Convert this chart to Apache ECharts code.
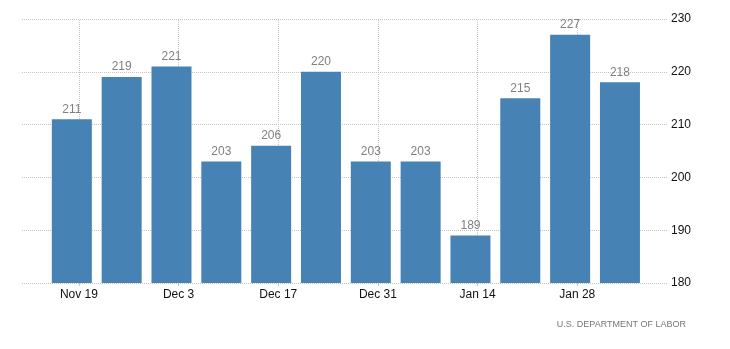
<!DOCTYPE html>
<html>
<head>
<meta charset="utf-8">
<script src="https://cdn.jsdelivr.net/npm/echarts@6/dist/echarts.min.js"></script>
<style>html,body{margin:0;padding:0;background:#fff}#c{width:730px;height:349px}</style>
</head>
<body>
<div id="c"></div>
<script>
// Days counted from Sun Nov 19 (bars sit on week-ending Saturdays)
const barDays = [-1, 6, 13, 20, 27, 34, 41, 48, 55, 62, 69, 76];
const values = [211, 219, 221, 203, 206, 220, 203, 203, 189, 215, 227, 218];
const tickDays = [0, 14, 28, 42, 56, 70];
const tickLabels = ['Nov 19', 'Dec 3', 'Dec 17', 'Dec 31', 'Jan 14', 'Jan 28'];
const yTicks = [180, 190, 200, 210, 220, 230];
const sourceText = 'U.S. DEPARTMENT OF LABOR';

const chart = echarts.init(document.getElementById('c'), null, {renderer: 'canvas'});
const font = 'Liberation Sans, Arial, sans-serif';
const gridLine = {color: '#c4c4c4', type: [1, 1], width: 1};
chart.setOption({
  animation: false,
  grid: {left: 22, right: 62, top: 19, bottom: 66},
  xAxis: {
    type: 'value',
    min: -8,
    max: 82.75,
    axisLine: {show: false},
    axisTick: {show: true, customValues: tickDays, length: 3, lineStyle: {color: '#c4c4c4'}},
    splitLine: {show: false},
    axisLabel: {
      customValues: tickDays,
      margin: 6,
      color: '#111',
      fontFamily: font,
      fontSize: 12,
      formatter: function (v) { return tickLabels[tickDays.indexOf(v)] || ''; }
    }
  },
  yAxis: {
    type: 'value',
    position: 'right',
    min: yTicks[0],
    max: yTicks[yTicks.length - 1],
    interval: 10,
    axisLine: {show: false},
    axisTick: {show: false},
    axisLabel: {margin: 3, color: '#111', fontFamily: font, fontSize: 12},
    splitLine: {show: true, lineStyle: gridLine}
  },
  series: [
    {
      type: 'line',
      data: [],
      z: 0,
      silent: true,
      markLine: {
        z: 0,
        silent: true,
        symbol: 'none',
        label: {show: false},
        lineStyle: gridLine,
        data: tickDays.map(d => ({xAxis: d}))
      }
    },
    {
      type: 'bar',
      z: 3,
      barWidth: 40,
      data: barDays.map((d, i) => [d, values[i]]),
      itemStyle: {color: '#4682b4'},
      label: {
        show: true,
        position: 'top',
        distance: 4,
        color: '#808080',
        fontFamily: font,
        fontSize: 12
      }
    }
  ],
  graphic: [{
    type: 'text',
    right: 44,
    top: 320,
    style: {text: sourceText, fill: '#777', font: '9px ' + font}
  }]
});
</script>
</body>
</html>
